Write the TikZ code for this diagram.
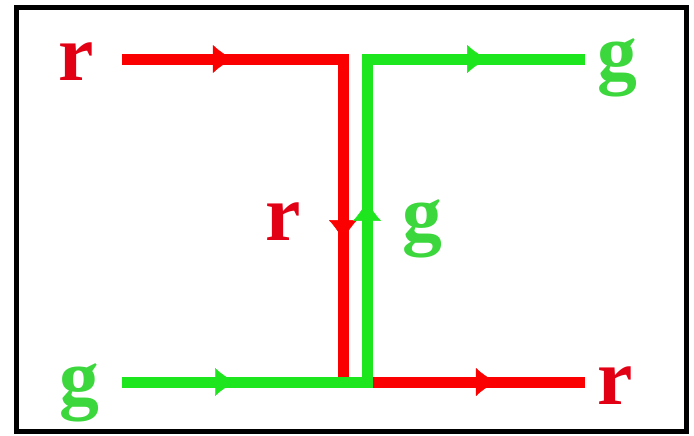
\documentclass[tikz,border=0pt]{standalone}
\usepackage{fontspec}
\setmainfont{Liberation Serif}
\usetikzlibrary{arrows.meta,decorations.markings}
\definecolor{LineRed}{RGB}{250,0,0}
\definecolor{LineGreen}{RGB}{30,230,30}
\definecolor{TextRed}{RGB}{225,0,20}
\definecolor{TextGreen}{RGB}{60,215,60}

\begin{document}
\begin{tikzpicture}[
    x=0.03cm, y=-0.03cm,
    every node/.style={font=\fontsize{68}{68}\selectfont\bfseries, anchor=base, inner sep=0pt},
    redlabel/.style={text=TextRed},
    greenlabel/.style={text=TextGreen},
    redline/.style={draw=LineRed, line width=0.33cm, line join=miter},
    greenline/.style={draw=LineGreen, line width=0.33cm, line join=miter},
    flowmark/.style 2 args={decorate, decoration={markings,
        mark=at position #1 with {\arrow[#2]{Latex[length=0.6cm,width=0.85cm,round]}}}},
]
\useasboundingbox (0,0) rectangle (694,435);
\draw[line width=0.15cm] (16,7) rectangle (686,431);

\coordinate (rin) at (122,59);
\coordinate (rtop) at (343,59);
\coordinate (rbot) at (343,382);
\coordinate (rout) at (585,382);
\coordinate (gin) at (122,382);
\coordinate (gbot) at (367,382);
\coordinate (gtop) at (367,59);
\coordinate (gout) at (585,59);

\node[redlabel] (rleft) at (76,80) {r};
\node[greenlabel] (gright) at (617,79) {g};
\node[redlabel] (rmid) at (283,240) {r};
\node[greenlabel] (gmid) at (422,240) {g};
\node[greenlabel] (gleft) at (79,404) {g};
\node[redlabel] (rright) at (615,404) {r};

\draw[redline] (rin) -- (rtop) -- (rbot) -- (rout);
\draw[greenline] (gin) -- (gbot) -- (gtop) -- (gout);

\path[flowmark={0.50}{LineRed}] (rin) -- (rtop);
\path[flowmark={0.56}{LineRed}] (rtop) -- (rbot);
\path[flowmark={0.59}{LineRed}] (gbot) -- (rout);
\path[flowmark={0.46}{LineGreen}] (gin) -- (gbot);
\path[flowmark={0.56}{LineGreen}] (gbot) -- (gtop);
\path[flowmark={0.55}{LineGreen}] (gtop) -- (gout);
\end{tikzpicture}
\end{document}
